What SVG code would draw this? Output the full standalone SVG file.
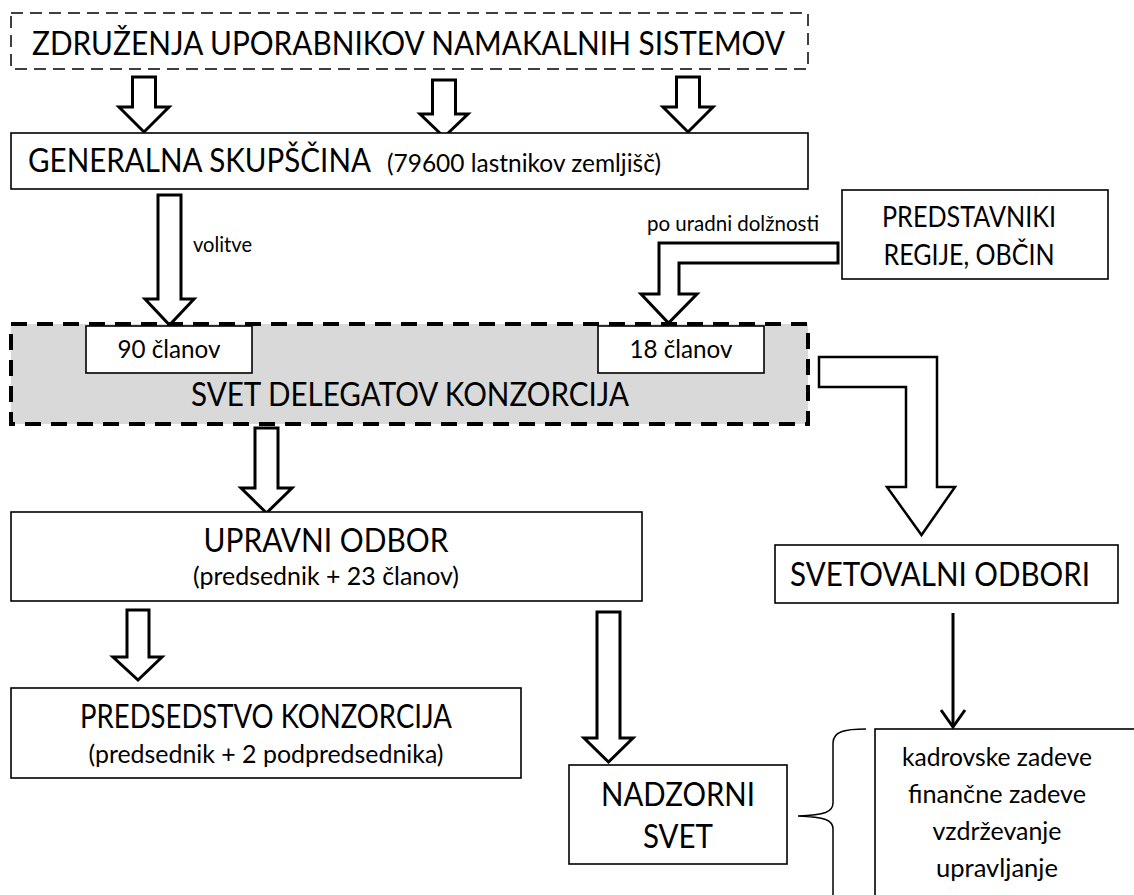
<svg xmlns="http://www.w3.org/2000/svg" width="1134" height="895" viewBox="0 0 1134 895">
<style>
  .box { fill: #ffffff; stroke: #000000; stroke-width: 1.6; }
  .top { fill: #ffffff; stroke: #000000; stroke-width: 1.5; stroke-dasharray: 12 7; }
  .gray { fill: #d9d9d9; stroke: #000000; stroke-width: 4; stroke-dasharray: 16 10; }
  .blk { fill: #ffffff; stroke: #000000; stroke-width: 3; stroke-linejoin: miter; }
  .blk2 { fill: #ffffff; stroke: #000000; stroke-width: 2.5; stroke-linejoin: miter; }
  .thin { fill: none; stroke: #000000; stroke-width: 3; }
  .brace { fill: none; stroke: #000000; stroke-width: 1.5; }
  text { font-family: Lato, "Liberation Sans", sans-serif; fill: #000000; }
  .L { font-size: 33px; }
  .M { font-size: 28px; }
  .S { font-size: 25.5px; }
  .XS { font-size: 21px; }
</style>

<g id="connectors">
  <polygon class="blk" points="132.5,77 155.5,77 155.5,107 169,107 144,132 119,107 132.5,107"/>
  <polygon class="blk" points="432.5,80 455.5,80 455.5,114 468,114 444,137 420,114 432.5,114"/>
  <polygon class="blk" points="676.5,77 699.5,77 699.5,107 713,107 688,132 663,107 676.5,107"/>
  <polygon class="blk" points="158,195 181,195 181,299 194,299 169.5,325 145,299 158,299"/>
  <text class="XS" x="193" y="252" textLength="59" lengthAdjust="spacingAndGlyphs">volitve</text>
  <polygon class="blk" points="838,243 659,243 659,294 641,294 668.5,323 697,294 679,294 679,263 838,263"/>
  <text class="XS" x="647" y="231" textLength="172" lengthAdjust="spacingAndGlyphs">po uradni dolžnosti</text>
  <polygon class="blk2" points="819,357 937,357 937,487 955,487 921.5,535 887,487 906,487 906,387 819,387"/>
  <polygon class="blk" points="255,428 278,428 278,488 292,488 266.5,513 241,488 255,488"/>
  <polygon class="blk" points="127,610 149,610 149,657 162,657 138,680 113,657 127,657"/>
  <polygon class="blk" points="597,612 620,612 620,738 633,738 608.5,762 584,738 597,738"/>
  <line class="thin" x1="953" y1="613" x2="953" y2="726"/>
  <polyline class="thin" points="941,710 953,727 965,710"/>
  <path class="brace" d="M866,729 C846,729 833,731 833,743 L833,803 C833,812 825,815 798,816 C825,817 833,820 833,829 L833,900"/>
</g>

<g id="zdruzenja">
  <rect class="top" x="11" y="13" width="797" height="56"/>
  <text class="L" x="32" y="55" textLength="753" lengthAdjust="spacingAndGlyphs">ZDRUŽENJA UPORABNIKOV NAMAKALNIH SISTEMOV</text>
</g>

<g id="generalna">
  <rect class="box" x="11" y="133" width="797" height="56"/>
  <text class="L" x="28" y="172" textLength="343" lengthAdjust="spacingAndGlyphs">GENERALNA SKUPŠČINA</text>
  <text class="S" x="387" y="172" textLength="274" lengthAdjust="spacingAndGlyphs">(79600 lastnikov zemljišč)</text>
</g>

<g id="predstavniki">
  <rect class="box" x="842" y="190" width="266" height="89"/>
  <text class="M" x="969" y="227" text-anchor="middle" textLength="174" lengthAdjust="spacingAndGlyphs">PREDSTAVNIKI</text>
  <text class="M" x="969" y="265" text-anchor="middle" textLength="171" lengthAdjust="spacingAndGlyphs">REGIJE, OBČIN</text>
</g>

<g id="svet-delegatov">
  <rect class="gray" x="11" y="324" width="797" height="100"/>
  <text class="L" x="410" y="406" text-anchor="middle" textLength="438" lengthAdjust="spacingAndGlyphs">SVET DELEGATOV KONZORCIJA</text>
</g>

<g id="clanov-90">
  <rect class="box" x="86" y="326" width="166" height="47"/>
  <text class="S" x="169" y="358" text-anchor="middle" textLength="103" lengthAdjust="spacingAndGlyphs">90 članov</text>
</g>

<g id="clanov-18">
  <rect class="box" x="598" y="326" width="166" height="47"/>
  <text class="S" x="681" y="358" text-anchor="middle" textLength="103" lengthAdjust="spacingAndGlyphs">18 članov</text>
</g>

<g id="upravni-odbor">
  <rect class="box" x="11" y="512" width="631" height="89"/>
  <text class="L" x="326" y="552" text-anchor="middle" textLength="245" lengthAdjust="spacingAndGlyphs">UPRAVNI ODBOR</text>
  <text class="S" x="326" y="585" text-anchor="middle" textLength="266" lengthAdjust="spacingAndGlyphs">(predsednik + 23 članov)</text>
</g>

<g id="svetovalni-odbori">
  <rect class="box" x="775" y="545" width="343" height="58"/>
  <text class="L" x="790" y="586" textLength="300" lengthAdjust="spacingAndGlyphs">SVETOVALNI ODBORI</text>
</g>

<g id="predsedstvo">
  <rect class="box" x="11" y="688" width="510" height="90"/>
  <text class="L" x="266" y="728" text-anchor="middle" textLength="372" lengthAdjust="spacingAndGlyphs">PREDSEDSTVO KONZORCIJA</text>
  <text class="S" x="266" y="763" text-anchor="middle" textLength="355" lengthAdjust="spacingAndGlyphs">(predsednik + 2 podpredsednika)</text>
</g>

<g id="nadzorni-svet">
  <rect class="box" x="569" y="765" width="218" height="99"/>
  <text class="L" x="678" y="806" text-anchor="middle" textLength="154" lengthAdjust="spacingAndGlyphs">NADZORNI</text>
  <text class="L" x="678" y="848" text-anchor="middle" textLength="70" lengthAdjust="spacingAndGlyphs">SVET</text>
</g>

<g id="zadeve">
  <rect class="box" x="875" y="729" width="270" height="180"/>
  <text class="S" x="997" y="766" text-anchor="middle" textLength="190" lengthAdjust="spacingAndGlyphs">kadrovske zadeve</text>
  <text class="S" x="997" y="803" text-anchor="middle" textLength="178" lengthAdjust="spacingAndGlyphs">finančne zadeve</text>
  <text class="S" x="997" y="840" text-anchor="middle" textLength="129" lengthAdjust="spacingAndGlyphs">vzdrževanje</text>
  <text class="S" x="997" y="877" text-anchor="middle" textLength="122" lengthAdjust="spacingAndGlyphs">upravljanje</text>
</g>
</svg>
